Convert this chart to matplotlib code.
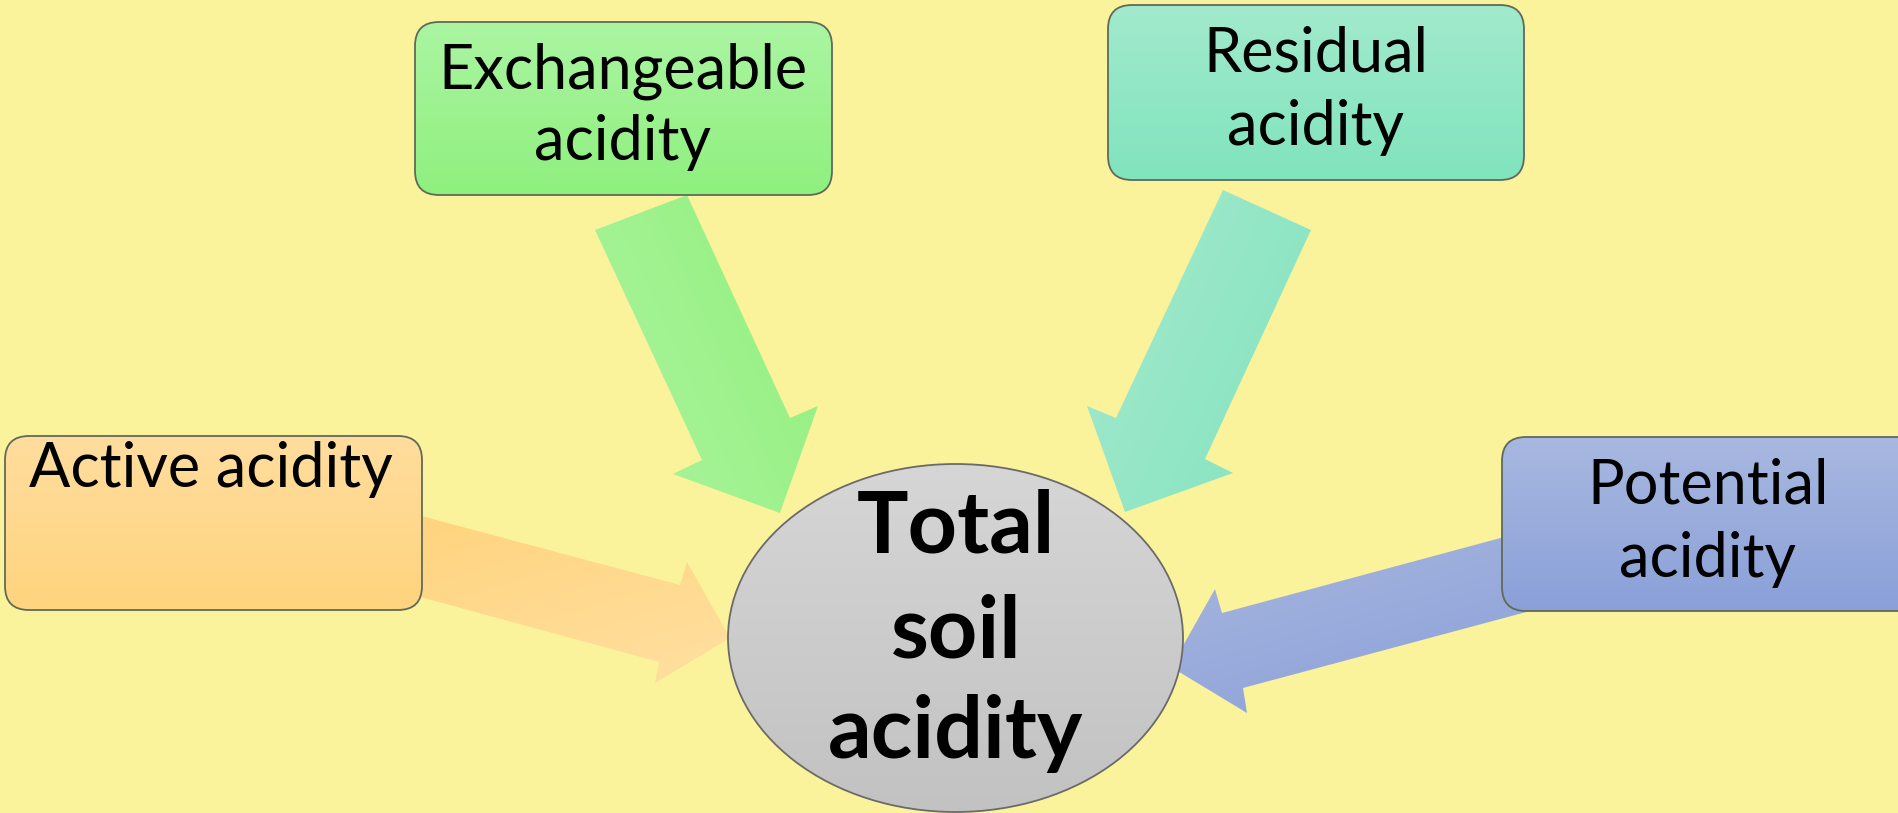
import numpy as np
import matplotlib
matplotlib.use("Agg")
import matplotlib.pyplot as plt
from matplotlib.patches import FancyBboxPatch, Polygon, Ellipse
from matplotlib.colors import to_rgb

# ---- content ----
source_labels = [["Active acidity"], ["Exchangeable", "acidity"],
                 ["Residual", "acidity"], ["Potential", "acidity"]]
center_label = ["Total", "soil", "acidity"]

# ---- layout (pixel coordinates, y downwards) ----
W, H = 1899, 813
BG = "#FBF39B"

boxes = [  # x0, y0, x1, y1
    (5, 436, 422, 610),
    (415, 22, 832, 195),
    (1108, 5, 1524, 180),
    (1502, 437, 1925, 611),
]
box_colors = [  # top, bottom
    ("#FFDD9E", "#FFD47E"),
    ("#ABF5A2", "#8FF07E"),
    ("#A2EACD", "#80E4BD"),
    ("#A8B8E0", "#8AA0D8"),
]
text_pos = [  # x center, baselines
    (211, [487]),
    (623, [88, 160]),
    (1316, [72, 145]),
    (1708, [503, 577]),
]

arrows = [
    [(380, 505), (680, 585), (687, 562), (730, 638), (655, 683), (659, 662), (380, 586)],
    [(595, 230), (687, 195), (790, 418), (818, 406), (780, 513), (673, 474), (702, 460)],
    [(1223, 190), (1311, 230), (1205, 459), (1233, 473), (1125, 512), (1087, 406), (1116, 418)],
    [(1560, 522), (1222, 613), (1215, 589), (1171, 667), (1247, 713), (1243, 688), (1560, 603)],
]
arrow_colors = [  # (color at start, color at end, direction vector)
    ("#FFD37C", "#FFDFA0", (0.3, 1.0)),
    ("#ACF4A0", "#92F07C", (1.0, -0.45)),
    ("#A6E9CE", "#82E4BE", (1.0, 0.45)),
    ("#A9B8E0", "#8A9FD8", (0.3, 1.0)),
]

ell_center = (955.5, 638)
ell_w, ell_h = 455, 348
ell_colors = ("#D6D6D6", "#C2C2C2")
center_x = 956
center_baselines = [552, 657, 758]

fig = plt.figure(figsize=(W / 100, H / 100), dpi=100)
fig.patch.set_facecolor(BG)
ax = fig.add_axes([0, 0, 1, 1])
ax.set_xlim(0, W)
ax.set_ylim(H, 0)
ax.axis("off")
ax.set_facecolor(BG)


def gradient_fill(patch, c1, c2, direction, bounds, z):
    x0, y0, x1, y1 = bounds
    nx, ny = 200, 200
    xs = np.linspace(x0, x1, nx)
    ys = np.linspace(y0, y1, ny)
    X, Y = np.meshgrid(xs, ys)
    dx, dy = direction
    proj = X * dx + Y * dy
    t = (proj - proj.min()) / (proj.max() - proj.min())
    a = np.array(to_rgb(c1))
    b = np.array(to_rgb(c2))
    img = a[None, None, :] * (1 - t[..., None]) + b[None, None, :] * t[..., None]
    im = ax.imshow(img, extent=(x0, x1, y1, y0), origin="upper",
                   aspect="auto", zorder=z, interpolation="bilinear")
    im.set_clip_path(patch)


# arrows
for pts, (c1, c2, d) in zip(arrows, arrow_colors):
    poly = Polygon(pts, closed=True, facecolor="none", edgecolor="none", zorder=1)
    ax.add_patch(poly)
    xs = [p[0] for p in pts]
    ys = [p[1] for p in pts]
    gradient_fill(poly, c1, c2, d, (min(xs), min(ys), max(xs), max(ys)), 1)

# boxes
for (x0, y0, x1, y1), (ct, cb) in zip(boxes, box_colors):
    p = FancyBboxPatch((x0, y0), x1 - x0, y1 - y0,
                       boxstyle="round,pad=0,rounding_size=24",
                       facecolor="none", edgecolor="#5f6a5a", lw=1.3, zorder=3)
    ax.add_patch(p)
    gradient_fill(p, ct, cb, (0, 1), (x0, y0, x1, y1), 2)

# ellipse
e = Ellipse(ell_center, ell_w, ell_h, facecolor="none", edgecolor="#6a6a6a",
            lw=1.3, zorder=3)
ax.add_patch(e)
cx, cy = ell_center
gradient_fill(e, ell_colors[0], ell_colors[1], (0, 1),
              (cx - ell_w / 2, cy - ell_h / 2, cx + ell_w / 2, cy + ell_h / 2), 2)

# texts
for lines, (tx, bls) in zip(source_labels, text_pos):
    for line, bl in zip(lines, bls):
        ax.text(tx, bl, line, ha="center", va="baseline", fontsize=44,
                family="Lato", color="black", zorder=5)

for line, bl in zip(center_label, center_baselines):
    ax.text(center_x, bl, line, ha="center", va="baseline", fontsize=62,
            family="Lato", fontweight="bold", color="black", zorder=5)

fig.savefig("out.png", dpi=100, facecolor=BG)
